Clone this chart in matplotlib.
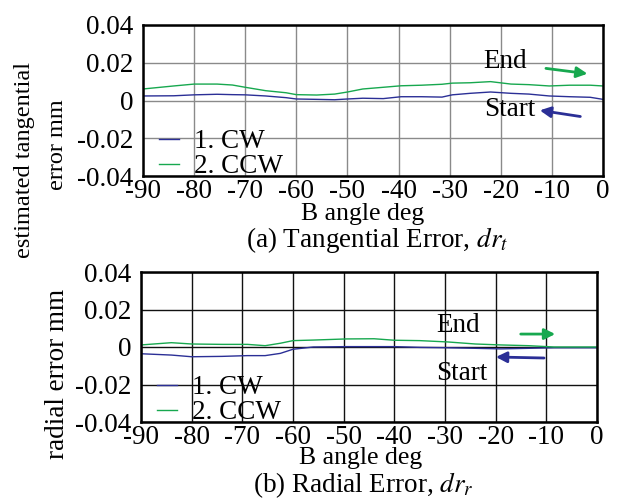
import matplotlib
matplotlib.use("Agg")
import matplotlib.pyplot as plt

plt.rcParams['font.family'] = ['Liberation Serif', 'DejaVu Serif']
plt.rcParams['mathtext.fontset'] = 'stix'

# B angle (deg) and estimated errors (mm)
ang_t = [-90, -84, -80, -75.5, -72.5, -70, -66, -62, -60, -56, -52.5, -50, -47, -43,
         -39.5, -35.5, -31.5, -29.5, -26, -22, -18, -14.5, -10.5, -6.5, -2.5, 0]
cw_t = [0.0024, 0.0025, 0.0030, 0.0033, 0.0031, 0.0030, 0.0024, 0.0015, 0.0008, 0.0006,
        0.0004, 0.0008, 0.0012, 0.0010, 0.0020, 0.0020, 0.0018, 0.0030, 0.0038, 0.0045,
        0.0038, 0.0034, 0.0024, 0.0020, 0.0017, 0.0006]
ccw_t = [0.0061, 0.0077, 0.0087, 0.0087, 0.0082, 0.0070, 0.0052, 0.0041, 0.0031, 0.0029,
         0.0034, 0.0045, 0.0061, 0.0070, 0.0078, 0.0081, 0.0086, 0.0092, 0.0094, 0.0100,
         0.0087, 0.0084, 0.0077, 0.0081, 0.0081, 0.0077]

ang_r = [-90, -84, -80, -74, -69, -65.5, -62.5, -60, -56, -49.5, -44, -40, -35, -29.5,
         -24, -19, -13.5, -8.5, -3, 0]
cw_r = [-0.0036, -0.0043, -0.0052, -0.0050, -0.0046, -0.0046, -0.0034, -0.0012, 0.0000,
        0.0002, 0.0002, 0.0002, -0.0002, -0.0004, -0.0007, -0.0010, -0.0007, -0.0004,
        -0.0004, -0.0004]
ccw_r = [0.0011, 0.0023, 0.0016, 0.0014, 0.0014, 0.0007, 0.0020, 0.0034, 0.0037, 0.0043,
         0.0044, 0.0036, 0.0034, 0.0027, 0.0016, 0.0011, 0.0007, 0.0000, 0.0000, 0.0000]

xticks = [-90, -80, -70, -60, -50, -40, -30, -20, -10, 0]
yticks = [0.04, 0.02, 0, -0.02, -0.04]
ylabels = ['0.04', '0.02', '0', '-0.02', '-0.04']
series = ['1. CW', '2. CCW']

blue = '#2b2f96'
green = '#17a84f'
fs = 19.5

W, H = 628, 499
fig = plt.figure(figsize=(W / 100, H / 100), dpi=100)


def box(l, r, t, b):
    return [l / W, 1 - b / H, (r - l) / W, (b - t) / H]


def setup(ax, gcol):
    ax.set_xlim(-90, 0)
    ax.set_ylim(-0.04, 0.04)
    ax.set_xticks(xticks)
    ax.set_xticklabels([str(v) for v in xticks])
    ax.set_yticks(yticks)
    ax.set_yticklabels(ylabels)
    ax.tick_params(length=0, labelsize=fs)
    ax.tick_params(axis='x', pad=2)
    ax.tick_params(axis='y', pad=7)
    ax.grid(True, color=gcol, lw=1)
    ax.set_axisbelow(True)
    for s in ax.spines.values():
        s.set_linewidth(1.8)
    ax.legend(series, loc='lower left', frameon=False, fontsize=fs,
              handlelength=0.75, handletextpad=0.55, labelspacing=0.0,
              borderpad=0, borderaxespad=0, bbox_to_anchor=(0.035, -0.02))


ax1 = fig.add_axes(box(143, 603, 25, 176))
ax1.plot(ang_t, cw_t, color=blue, lw=1)
ax1.plot(ang_t, ccw_t, color=green, lw=1)
setup(ax1, '#8a8a8a')
ax1.text(-19.2, 0.0204, 'End', fontsize=fs, ha='center', va='center')
ax1.text(-18.2, -0.005, 'Start', fontsize=fs, ha='center', va='center')
ax1.annotate('', xy=(-2.5, 0.014), xytext=(-11.7, 0.0172),
             arrowprops=dict(arrowstyle='-|>', color=green, lw=2, mutation_scale=16))
ax1.annotate('', xy=(-12.9, -0.005), xytext=(-3.9, -0.0087),
             arrowprops=dict(arrowstyle='-|>', color=blue, lw=2, mutation_scale=16))

ax2 = fig.add_axes(box(141, 597, 272, 422))
ax2.plot(ang_r, cw_r, color=blue, lw=1)
ax2.plot(ang_r, ccw_r, color=green, lw=1)
setup(ax2, '#111111')
ax2.text(-27.4, 0.0112, 'End', fontsize=fs, ha='center', va='center')
ax2.text(-26.6, -0.0139, 'Start', fontsize=fs, ha='center', va='center')
ax2.annotate('', xy=(-7.7, 0.0069), xytext=(-15.6, 0.0069),
             arrowprops=dict(arrowstyle='-|>', color=green, lw=2, mutation_scale=16))
ax2.annotate('', xy=(-20.5, -0.0053), xytext=(-9.9, -0.0059),
             arrowprops=dict(arrowstyle='-|>', color=blue, lw=2, mutation_scale=16))

# axis labels and captions
fig.text(25 / W, 1 - 160 / H, 'estimated tangential', rotation=90,
         fontsize=17.5, ha='center', va='center')
fig.text(58 / W, 1 - 145 / H, 'error mm', rotation=90,
         fontsize=17.5, ha='center', va='center')
fig.text(58 / W, 1 - 374 / H, 'radial error mm', rotation=90,
         fontsize=fs, ha='center', va='center')
fig.text(363 / W, 1 - 214 / H, 'B angle deg', fontsize=18.5, ha='center', va='center')
fig.text(377 / W, 1 - 240 / H, '(a) Tangential Error, $dr_t$', fontsize=fs,
         ha='center', va='center')
fig.text(361 / W, 1 - 458 / H, 'B angle deg', fontsize=18.5, ha='center', va='center')
fig.text(363 / W, 1 - 485 / H, '(b) Radial Error, $dr_r$', fontsize=fs,
         ha='center', va='center')

fig.savefig('out.png', dpi=100)
